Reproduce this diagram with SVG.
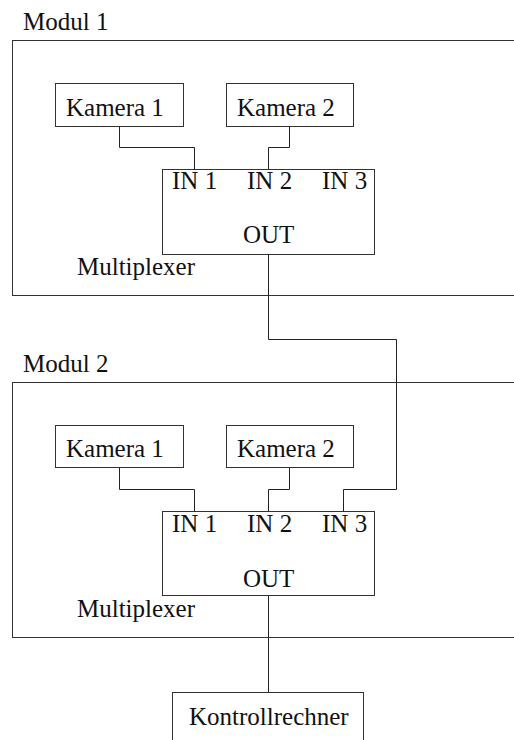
<svg xmlns="http://www.w3.org/2000/svg" width="514" height="740" viewBox="0 0 514 740">
  <rect width="514" height="740" fill="#fff"/>

  <!-- Boxes share one outline look; labels share one type look -->
  <g fill="none" stroke="#333" stroke-width="1">
    <g id="modul1">
      <rect x="12.5" y="40.5" width="520" height="255"/>
      <text x="23" y="30" font-family="Liberation Serif, serif" font-size="25" fill="#111" stroke="none">Modul 1</text>
    </g>
    <g id="m1-kamera1">
      <rect x="55.5" y="83.5" width="128" height="43"/>
      <text x="66" y="116" font-family="Liberation Serif, serif" font-size="25" fill="#111" stroke="none">Kamera 1</text>
    </g>
    <g id="m1-kamera2">
      <rect x="226.5" y="83.5" width="127" height="43"/>
      <text x="237" y="116" font-family="Liberation Serif, serif" font-size="25" fill="#111" stroke="none">Kamera 2</text>
    </g>
    <g id="m1-mux">
      <rect x="162.5" y="169.5" width="212" height="85"/>
      <text x="172" y="189" font-family="Liberation Serif, serif" font-size="25" fill="#111" stroke="none">IN 1</text>
      <text x="247" y="189" font-family="Liberation Serif, serif" font-size="25" fill="#111" stroke="none">IN 2</text>
      <text x="322" y="189" font-family="Liberation Serif, serif" font-size="25" fill="#111" stroke="none">IN 3</text>
      <text x="243" y="243" font-family="Liberation Serif, serif" font-size="25" fill="#111" stroke="none">OUT</text>
      <text x="77" y="275" font-family="Liberation Serif, serif" font-size="25" fill="#111" stroke="none">Multiplexer</text>
    </g>

    <g id="modul2">
      <rect x="12.5" y="382.5" width="520" height="255"/>
      <text x="23" y="372" font-family="Liberation Serif, serif" font-size="25" fill="#111" stroke="none">Modul 2</text>
    </g>
    <g id="m2-kamera1">
      <rect x="55.5" y="425.5" width="128" height="42"/>
      <text x="66" y="457" font-family="Liberation Serif, serif" font-size="25" fill="#111" stroke="none">Kamera 1</text>
    </g>
    <g id="m2-kamera2">
      <rect x="226.5" y="425.5" width="127" height="42"/>
      <text x="237" y="457" font-family="Liberation Serif, serif" font-size="25" fill="#111" stroke="none">Kamera 2</text>
    </g>
    <g id="m2-mux">
      <rect x="162.5" y="511.5" width="212" height="84"/>
      <text x="172" y="532" font-family="Liberation Serif, serif" font-size="25" fill="#111" stroke="none">IN 1</text>
      <text x="247" y="532" font-family="Liberation Serif, serif" font-size="25" fill="#111" stroke="none">IN 2</text>
      <text x="322" y="532" font-family="Liberation Serif, serif" font-size="25" fill="#111" stroke="none">IN 3</text>
      <text x="243" y="587" font-family="Liberation Serif, serif" font-size="25" fill="#111" stroke="none">OUT</text>
      <text x="77" y="617" font-family="Liberation Serif, serif" font-size="25" fill="#111" stroke="none">Multiplexer</text>
    </g>

    <g id="kontrollrechner">
      <rect x="172.5" y="692.5" width="191" height="60"/>
      <text x="189" y="725" font-family="Liberation Serif, serif" font-size="25" fill="#111" stroke="none">Kontrollrechner</text>
    </g>
  </g>

  <!-- Connectors -->
  <g id="connectors" fill="none" stroke="#222" stroke-width="1">
    <polyline points="119.5,126.5 119.5,147.5 194.5,147.5 194.5,169.5"/>
    <polyline points="289.5,126.5 289.5,147.5 268.5,147.5 268.5,169.5"/>
    <polyline points="268.5,254.5 268.5,339.5 396.5,339.5 396.5,489.5 343.5,489.5 343.5,511.5"/>
    <polyline points="119.5,467.5 119.5,489.5 194.5,489.5 194.5,511.5"/>
    <polyline points="289.5,467.5 289.5,489.5 268.5,489.5 268.5,511.5"/>
    <polyline points="268.5,595.5 268.5,692.5"/>
  </g>
</svg>
